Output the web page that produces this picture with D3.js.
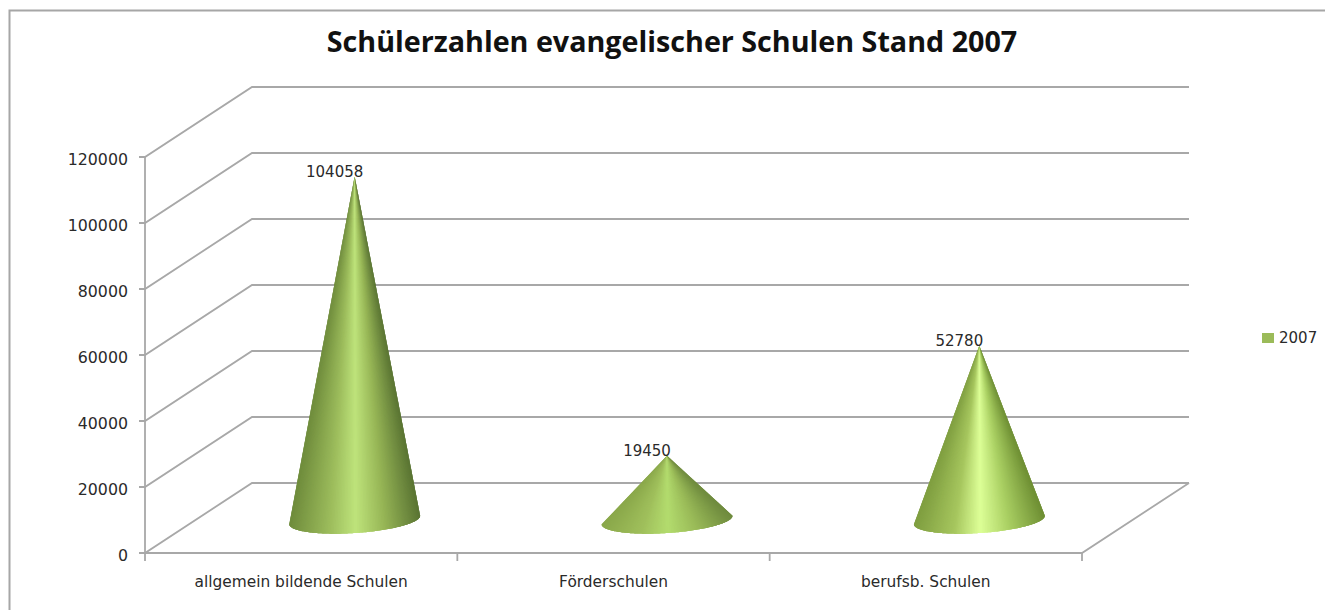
<!DOCTYPE html>
<html>
<head>
<meta charset="utf-8">
<script src="https://cdn.jsdelivr.net/npm/d3@7"></script>
<style>
    html, body { margin: 0; padding: 0; background: #fff; }
    svg { display: block; }
    text { font-family: "DejaVu Sans", sans-serif; fill: #2a2a2a; }
    .title { font-family: "Open Sans", sans-serif; font-weight: 700; font-size: 28.7px; fill: #111; }
    .wall { stroke: #a8a8a8; stroke-width: 1.8; fill: none; }
</style>
</head>
<body>
<svg class="cones" width="1325" height="610"></svg>
<script>
const categories = ["allgemein bildende Schulen", "Förderschulen", "berufsb. Schulen"];
const values = [104058, 19450, 52780];
const yTicks = [0, 20000, 40000, 60000, 80000, 100000, 120000];
const seriesName = "2007";
const chartTitle = "Schülerzahlen evangelischer Schulen Stand 2007";

// shading across each cone, left edge to right edge
const shadeStops = [0, 0.3, 0.5, 0.72, 1];
const coneShades = [
    ["#6f8c3c", "#9cbc5c", "#bee37b", "#97b656", "#5a7433"],
    ["#8aa84a", "#a0c05c", "#b3dc6e", "#9abb58", "#6f8b3e"],
    ["#7f9e40", "#a6c65e", "#ddff97", "#aad063", "#6f8f34"]
];

function drawCones() {
    const svg = d3.select("svg.cones");
    const frontLeft = 145;
    const frontRight = 1082;
    const depthX = 107;
    const depthY = 70;
    const coneBase = 33;
    const tilt = -3.8 * Math.PI / 180;
    const baseHeight = 13;

    const x = d3.scaleBand()
        .domain(categories)
        .range([frontLeft, frontRight])
        .paddingInner(0.58)
        .paddingOuter(0.29);

    const y = d3.scaleLinear()
        .domain([0, 120000])
        .range([553, 157]);

    // sheet border
    svg.append("path")
        .attr("d", "M9.5,610V10.5H1325")
        .attr("fill", "none")
        .attr("stroke", "#a6a6a6")
        .attr("stroke-width", 2);

    svg.append("text")
        .attr("class", "title")
        .attr("x", 672)
        .attr("y", 52)
        .attr("text-anchor", "middle")
        .text(chartTitle);

    // side wall and back wall
    const walls = svg.append("g").attr("class", "walls");
    walls.selectAll(".grid")
        .data(yTicks)
        .enter().append("path")
        .attr("class", "wall grid")
        .attr("d", d => `M${frontLeft - 6},${y(d)}H${frontLeft}l${depthX},${-depthY}H${frontRight + depthX}`);

    walls.append("path")
        .attr("class", "wall")
        .attr("d", `M${frontLeft},${y(120000)}V${y(0)}H${frontRight}l${depthX},${-depthY}`);

    const step = x.step();
    walls.selectAll(".tick")
        .data(d3.range(categories.length + 1))
        .enter().append("line")
        .attr("class", "wall tick")
        .attr("x1", d => frontLeft + d * step)
        .attr("x2", d => frontLeft + d * step)
        .attr("y1", y(0))
        .attr("y2", y(0) + 8);

    svg.selectAll(".y-label")
        .data(yTicks)
        .enter().append("text")
        .attr("class", "y-label")
        .attr("x", 128)
        .attr("y", d => y(d) + 2)
        .attr("dy", "0.36em")
        .attr("text-anchor", "end")
        .attr("font-size", 15.8)
        .text(d => d);

    svg.selectAll(".x-label")
        .data(categories)
        .enter().append("text")
        .attr("class", "x-label")
        .attr("x", d => x(d) + x.bandwidth() / 2)
        .attr("y", 587)
        .attr("text-anchor", "middle")
        .attr("font-size", 15.4)
        .text(d => d);

    // each cone is a fan of slices from the tip to the front of the base,
    // every slice overlaps the next one so no seams show
    const cones = svg.selectAll(".cone")
        .data(categories)
        .enter().append("g")
        .attr("class", "cone");

    cones.each(function (cat, i) {
        const cx = x(cat) + x.bandwidth() / 2 + depthX / 2;
        const cy = y(0) - coneBase;
        const a = x.bandwidth() / 2;
        const tipY = y(values[i]) - coneBase;
        const shade = d3.scaleLinear().domain(shadeStops).range(coneShades[i]);

        const rim = d3.range(0, 121).map(k => {
            const th = Math.PI - k / 120 * Math.PI;
            const u = a * Math.cos(th);
            const v = baseHeight * Math.sin(th);
            return [cx + u * Math.cos(tilt) - v * Math.sin(tilt), cy + u * Math.sin(tilt) + v * Math.cos(tilt)];
        });

        d3.select(this).selectAll("path")
            .data(rim.slice(0, -1))
            .enter().append("path")
            .attr("d", (d, k) => `M${cx},${tipY}L${d3.line()(rim.slice(k, k + 4)).slice(1)}Z`)
            .attr("fill", d => shade((d[0] - cx + a) / (2 * a)));
    });

    svg.selectAll(".value")
        .data(values)
        .enter().append("text")
        .attr("class", "value")
        .attr("x", (d, i) => x(categories[i]) + x.bandwidth() / 2 + depthX / 2 - 20)
        .attr("y", d => y(d) - coneBase - 5)
        .attr("dy", "0.36em")
        .attr("text-anchor", "middle")
        .attr("font-size", 15)
        .text(d => d);

    // legend
    svg.append("rect")
        .attr("x", 1262)
        .attr("y", 333)
        .attr("width", 12)
        .attr("height", 10)
        .attr("fill", "#9bbb59");

    svg.append("text")
        .attr("x", 1279)
        .attr("y", 338)
        .attr("dy", "0.36em")
        .attr("font-size", 15)
        .text(seriesName);
}

drawCones();
</script>
</body>
</html>
